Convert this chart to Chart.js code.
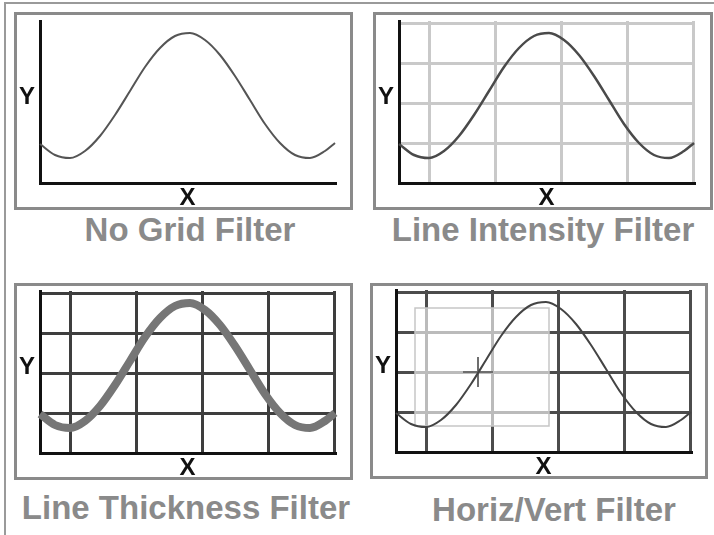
<!DOCTYPE html>
<html>
<head>
<meta charset="utf-8">
<script src="https://cdn.jsdelivr.net/npm/chart.js@4/dist/chart.umd.min.js"></script>
<style>
  body { margin: 0; background: #fff; }
  #page { position: relative; width: 714px; height: 535px; overflow: hidden; background: #fff; }
  #frame { position: absolute; left: 4px; top: 2px; width: 800px; height: 600px;
           border-top: 2px solid #9a9a9a; border-left: 2px solid #9a9a9a; }
  .box { position: absolute; box-sizing: border-box; border: 3px solid #8a8a8a; background: #fff; }
  canvas { position: absolute; }
  .caption { position: absolute; width: 400px; text-align: center; color: #8a8a8a;
             font: bold 33px "Liberation Sans", Arial, sans-serif; line-height: 33px; white-space: nowrap; }
</style>
</head>
<body>
<div id="page">
  <div id="frame"></div>
  <div class="box" style="left:14px;top:12px;width:339px;height:198px"></div>
  <div class="box" style="left:373px;top:12px;width:340px;height:198px"></div>
  <div class="box" style="left:14px;top:283px;width:339px;height:197px"></div>
  <div class="box" style="left:370px;top:283px;width:338px;height:196px"></div>
  <canvas id="c1" width="339" height="198" style="left:14px;top:12px"></canvas>
  <canvas id="c2" width="340" height="198" style="left:373px;top:12px"></canvas>
  <canvas id="c3" width="339" height="197" style="left:14px;top:283px"></canvas>
  <canvas id="c4" width="338" height="196" style="left:370px;top:283px"></canvas>
  <div class="caption" style="left:-10px;top:213px">No Grid Filter</div>
  <div class="caption" style="left:343px;top:213px">Line Intensity Filter</div>
  <div class="caption" style="left:-14px;top:491px">Line Thickness Filter</div>
  <div class="caption" style="left:354px;top:493px">Horiz/Vert Filter</div>
</div>
<script>
// curve (x along the axis, y above the axis)
const curveX = [0, 15, 30, 45, 60, 75, 90, 105, 120, 135, 150, 165, 180, 195, 210, 225, 240, 255, 270, 285, 295];
const curveY = [39, 28, 25, 32, 47, 68, 92, 116, 135, 147, 150, 143, 128, 107, 83, 59, 40, 28, 25, 32, 40];
// grid positions
const gridX = [30, 96, 162, 228, 294];
const gridY = [40, 80, 120, 160];
// highlighted area in the last panel: [xMin, xMax, yMin, yMax] and its centre
const focusBox = [19, 153, 26, 144];
const focusPoint = [82, 80];

const axisLabels = {
    id: 'axisLabels',
    afterDraw(chart) {
        const { ctx, chartArea } = chart;
        ctx.save();
        ctx.fillStyle = '#111';
        ctx.font = 'bold 24px "Liberation Sans", Arial, sans-serif';
        ctx.textAlign = 'center';
        ctx.textBaseline = 'middle';
        ctx.fillText('X', (chartArea.left + chartArea.right) / 2, chartArea.bottom + 15);
        ctx.fillText('Y', chartArea.left - 13, (chartArea.top + chartArea.bottom) / 2 - 5);
        ctx.restore();
    }
};

const focusArea = {
    id: 'focusArea',
    beforeDatasetsDraw(chart) {
        const { ctx, scales: { x, y } } = chart;
        const l = x.getPixelForValue(focusBox[0]), r = x.getPixelForValue(focusBox[1]);
        const b = y.getPixelForValue(focusBox[2]), t = y.getPixelForValue(focusBox[3]);
        ctx.save();
        ctx.fillStyle = 'rgba(255,255,255,0.62)';
        ctx.fillRect(l, t, r - l, b - t);
        ctx.strokeStyle = '#c6c6c6';
        ctx.lineWidth = 1.5;
        ctx.strokeRect(l, t, r - l, b - t);
        const cx = x.getPixelForValue(focusPoint[0]), cy = y.getPixelForValue(focusPoint[1]);
        ctx.strokeStyle = '#6e6e6e';
        ctx.lineWidth = 2;
        ctx.beginPath();
        ctx.moveTo(cx - 15, cy); ctx.lineTo(cx + 15, cy);
        ctx.moveTo(cx, cy - 15); ctx.lineTo(cx, cy + 15);
        ctx.stroke();
        ctx.restore();
    }
};

function makePanel(id, opts) {
    const grid = {
        display: opts.gridColor != null,
        color: opts.gridColor,
        lineWidth: 3,
        drawTicks: false
    };
    const border = { display: true, color: '#111', width: 3 };
    return new Chart(document.getElementById(id), {
        type: 'line',
        data: {
            datasets: [{
                data: curveX.map((x, i) => ({ x: x, y: curveY[i] })),
                borderColor: opts.lineColor,
                borderWidth: opts.lineWidth,
                pointRadius: 0,
                cubicInterpolationMode: 'monotone',
                fill: false,
                clip: false
            }]
        },
        options: {
            responsive: false,
            animation: false,
            events: [],
            layout: { padding: opts.padding },
            plugins: { legend: { display: false }, tooltip: { enabled: false } },
            scales: {
                x: {
                    type: 'linear', min: 0, max: 295,
                    ticks: { display: false },
                    afterBuildTicks: s => { s.ticks = gridX.map(v => ({ value: v })); },
                    grid: grid, border: border
                },
                y: {
                    min: 0, max: 162,
                    ticks: { display: false },
                    afterBuildTicks: s => { s.ticks = gridY.map(v => ({ value: v })); },
                    grid: grid, border: border
                }
            }
        },
        plugins: opts.focus ? [focusArea, axisLabels] : [axisLabels]
    });
}

makePanel('c1', { gridColor: null, lineColor: '#555', lineWidth: 2,
    padding: { left: 26, top: 9, right: 18, bottom: 27 } });
makePanel('c2', { gridColor: '#c9c9c9', lineColor: '#4a4a4a', lineWidth: 2.5,
    padding: { left: 26, top: 9, right: 19, bottom: 27 } });
makePanel('c3', { gridColor: '#3e3e3e', lineColor: '#767676', lineWidth: 8,
    padding: { left: 26, top: 8, right: 18, bottom: 27 } });
makePanel('c4', { gridColor: '#4c4c4c', lineColor: '#444', lineWidth: 2, focus: true,
    padding: { left: 26, top: 7, right: 17, bottom: 27 } });
</script>
</body>
</html>
